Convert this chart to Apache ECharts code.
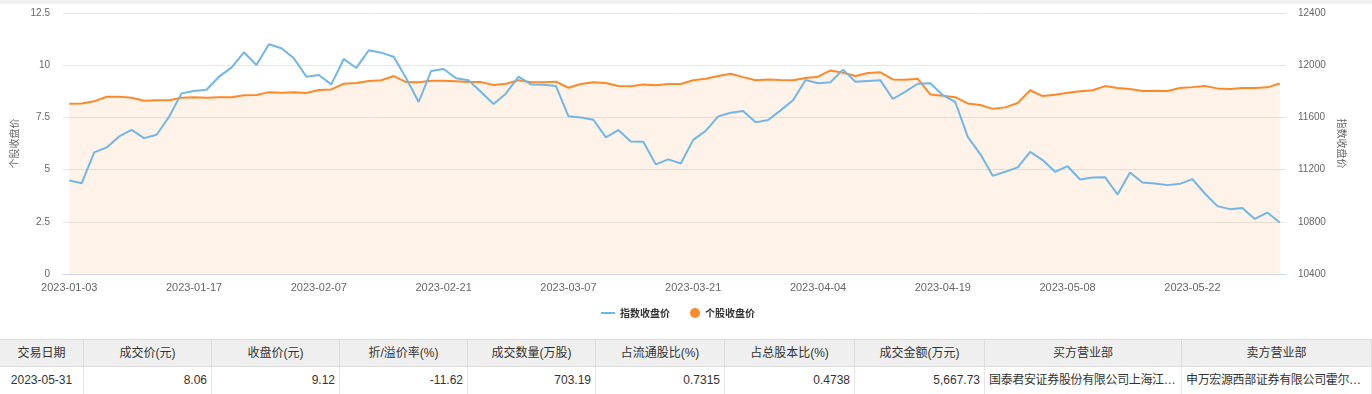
<!DOCTYPE html>
<html>
<head>
<meta charset="utf-8">
<script src="https://cdn.jsdelivr.net/npm/echarts@6/dist/echarts.min.js"></script>
<style>
  html, body { margin: 0; padding: 0; background: #fff; width: 1372px; height: 394px; overflow: hidden; }
  #topbar { position: absolute; left: 0; top: 0; width: 1372px; height: 4px; background: #f2f2f2; }
  #chart { position: absolute; left: 0; top: 4px; width: 1372px; height: 332px; }
  #tbl { position: absolute; left: 0; top: 339px; width: 1372px;
         font-family: "Liberation Sans", "Noto Sans CJK SC", sans-serif; font-size: 12px; color: #333; }
  .tr { display: flex; width: 1372px; }
  .cell { box-sizing: border-box; padding: 0 4px; white-space: nowrap; overflow: hidden; text-overflow: ellipsis;
          border-right: 1px solid #dcdcdc; border-bottom: 1px solid #dcdcdc; }
  .hd .cell { background: #efefef; height: 27px; line-height: 26px; text-align: center; }
  .hd { border-top: 1px solid #dcdcdc; }
  .bd .cell { height: 28px; line-height: 27px; border-color: #e6e6e6; }
  .num { text-align: right; }
  .c { text-align: center; }
  .l { text-align: left; letter-spacing: -0.35px; }
</style>
</head>
<body>
<div id="topbar"></div>
<div id="chart"></div>
<div id="tbl"><div class="tr hd" id="hdr"></div><div class="tr bd" id="row"></div></div>
<script>
var dates = [
  '2023-01-03','2023-01-04','2023-01-05','2023-01-06','2023-01-09','2023-01-10','2023-01-11','2023-01-12','2023-01-13','2023-01-16',
  '2023-01-17','2023-01-18','2023-01-19','2023-01-20','2023-01-30','2023-01-31','2023-02-01','2023-02-02','2023-02-03','2023-02-06',
  '2023-02-07','2023-02-08','2023-02-09','2023-02-10','2023-02-13','2023-02-14','2023-02-15','2023-02-16','2023-02-17','2023-02-20',
  '2023-02-21','2023-02-22','2023-02-23','2023-02-24','2023-02-27','2023-02-28','2023-03-01','2023-03-02','2023-03-03','2023-03-06',
  '2023-03-07','2023-03-08','2023-03-09','2023-03-10','2023-03-13','2023-03-14','2023-03-15','2023-03-16','2023-03-17','2023-03-20',
  '2023-03-21','2023-03-22','2023-03-23','2023-03-24','2023-03-27','2023-03-28','2023-03-29','2023-03-30','2023-03-31','2023-04-03',
  '2023-04-04','2023-04-06','2023-04-07','2023-04-10','2023-04-11','2023-04-12','2023-04-13','2023-04-14','2023-04-17','2023-04-18',
  '2023-04-19','2023-04-20','2023-04-21','2023-04-24','2023-04-25','2023-04-26','2023-04-27','2023-04-28','2023-05-04','2023-05-05',
  '2023-05-08','2023-05-09','2023-05-10','2023-05-11','2023-05-12','2023-05-15','2023-05-16','2023-05-17','2023-05-18','2023-05-19',
  '2023-05-22','2023-05-23','2023-05-24','2023-05-25','2023-05-26','2023-05-29','2023-05-30','2023-05-31'
];
var indexClose = [
  11117,11096,11332,11370,11454,11505,11441,11467,11605,11784,
  11802,11812,11912,11981,12099,12002,12160,12130,12053,11912,
  11925,11853,12048,11979,12114,12096,12065,11900,11718,11956,
  11971,11900,11884,11794,11702,11784,11912,11853,11850,11840,
  11609,11599,11582,11447,11503,11416,11413,11240,11278,11247,
  11428,11497,11608,11636,11649,11562,11580,11654,11731,11886,
  11861,11869,11966,11873,11879,11884,11741,11798,11858,11861,
  11770,11718,11451,11319,11152,11183,11217,11336,11273,11183,
  11226,11124,11140,11142,11009,11178,11101,11094,11081,11091,
  11127,11017,10920,10897,10906,10822,10871,10794
];
var stockClose = [
  8.15,8.17,8.27,8.49,8.49,8.44,8.30,8.32,8.32,8.44,
  8.46,8.44,8.46,8.47,8.56,8.57,8.71,8.68,8.70,8.67,
  8.81,8.84,9.11,9.15,9.24,9.28,9.48,9.19,9.18,9.26,
  9.26,9.23,9.19,9.19,9.05,9.11,9.28,9.18,9.18,9.21,
  8.92,9.10,9.18,9.15,9.00,8.99,9.08,9.04,9.10,9.10,
  9.28,9.35,9.48,9.59,9.43,9.28,9.32,9.29,9.28,9.39,
  9.45,9.75,9.64,9.48,9.63,9.66,9.32,9.30,9.35,8.60,
  8.54,8.47,8.17,8.09,7.91,7.98,8.19,8.80,8.52,8.59,
  8.68,8.75,8.80,9.00,8.91,8.86,8.76,8.78,8.76,8.91,
  8.95,9.00,8.89,8.86,8.91,8.91,8.94,9.12
];
var seriesNames = ['指数收盘价', '个股收盘价'];
var leftAxisName = '个股收盘价';
var rightAxisName = '指数收盘价';

var tableHeaders = ['交易日期','成交价(元)','收盘价(元)','折/溢价率(%)','成交数量(万股)','占流通股比(%)','占总股本比(%)','成交金额(万元)','买方营业部','卖方营业部'];
var tableRow = ['2023-05-31','8.06','9.12','-11.62','703.19','0.7315','0.4738','5,667.73','国泰君安证券股份有限公司上海江苏路证券营业部','申万宏源西部证券有限公司霍尔果斯证券营业部'];
var colWidths = [84,128,128,128,128,129,130,130,197,190];
var colAlign = ['c','num','num','num','num','num','num','num','l','l'];

var hdr = document.getElementById('hdr'), row = document.getElementById('row');
tableHeaders.forEach(function (h, i) {
  var a = document.createElement('div'); a.className = 'cell'; a.textContent = h; a.style.width = colWidths[i] + 'px'; hdr.appendChild(a);
  var b = document.createElement('div'); b.className = 'cell ' + colAlign[i]; b.textContent = tableRow[i]; b.style.width = colWidths[i] + 'px'; row.appendChild(b);
});

var BLUE = '#72b6e6', ORANGE = '#fb8a2c';
var labelFont = { color: '#666', fontSize: 10, fontFamily: 'Liberation Sans, Noto Sans CJK SC, sans-serif' };
var legendText = { color: '#333', fontSize: 10, fontWeight: 'bold', fontFamily: 'Noto Sans CJK SC, sans-serif' };

var chart = echarts.init(document.getElementById('chart'), null, { renderer: 'canvas' });
chart.setOption({
  animation: false,
  legend: [
    { top: 304, left: 601, padding: 0, itemWidth: 14, itemHeight: 2, itemGap: 5, icon: 'rect',
      textStyle: legendText, data: [seriesNames[0]] },
    { top: 304, left: 690, padding: 0, itemWidth: 10, itemHeight: 10, icon: 'circle',
      textStyle: legendText, data: [seriesNames[1]] }
  ],
  grid: { left: 63, right: 86, top: 9, height: 261 },
  xAxis: {
    type: 'category', data: dates, boundaryGap: true,
    axisLine: { lineStyle: { color: '#ccd6eb' } },
    axisTick: { alignWithLabel: true, interval: 9, length: 5, lineStyle: { color: '#ccd6eb' } },
    axisLabel: { interval: 9, margin: 8, color: '#666', fontSize: 11, fontFamily: 'Liberation Sans, sans-serif' }
  },
  yAxis: [
    {
      type: 'value', min: 0, max: 12.5, interval: 2.5, position: 'left',
      name: leftAxisName, nameLocation: 'middle', nameGap: 32,
      nameTextStyle: { color: '#666', fontSize: 10, fontFamily: 'Noto Sans CJK SC, sans-serif' },
      axisLine: { show: false }, axisTick: { show: false },
      axisLabel: Object.assign({ margin: 13 }, labelFont),
      splitLine: { lineStyle: { color: '#e6e6e6' } }
    },
    {
      type: 'value', min: 10400, max: 12400, interval: 400, position: 'right',
      name: rightAxisName, nameLocation: 'middle', nameGap: 48, nameRotate: -90,
      nameTextStyle: { color: '#666', fontSize: 10, fontFamily: 'Noto Sans CJK SC, sans-serif' },
      axisLine: { show: false }, axisTick: { show: false },
      axisLabel: Object.assign({ margin: 12, formatter: function (v) { return String(v); } }, labelFont),
      splitLine: { show: false }
    }
  ],
  series: [
    {
      name: seriesNames[1], type: 'line', yAxisIndex: 0, data: stockClose,
      symbol: 'circle', showSymbol: false, color: ORANGE, z: 2,
      lineStyle: { color: ORANGE, width: 2 },
      areaStyle: { color: ORANGE, opacity: 0.11 }
    },
    {
      name: seriesNames[0], type: 'line', yAxisIndex: 1, data: indexClose,
      symbol: 'none', color: BLUE, z: 3,
      lineStyle: { color: BLUE, width: 2 }
    }
  ]
});
</script>
</body>
</html>
